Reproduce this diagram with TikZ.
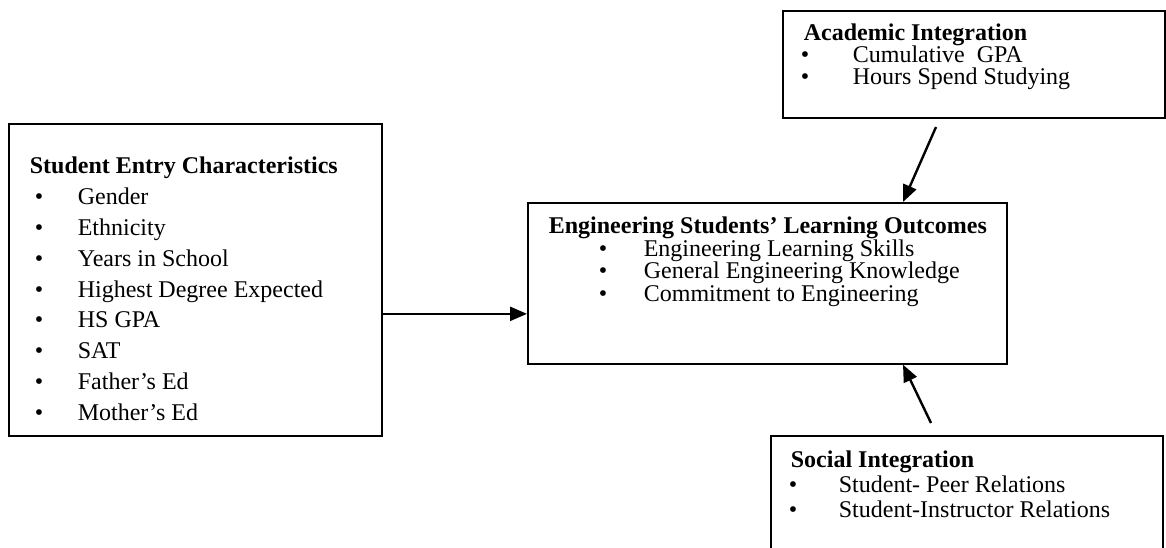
\documentclass[tikz,border=0pt]{standalone}
\usepackage{fontspec}
\setmainfont{Liberation Serif}
\usetikzlibrary{arrows.meta}

\newlength{\bulx}
\newlength{\txtx}
\newcommand{\bxsetup}[3]{\setlength{\bulx}{#1}\setlength{\txtx}{#2}%
  \fontsize{24}{#3}\selectfont\lineskiplimit=-100pt\relax}
\newcommand{\bitem}[1]{\par\makebox[\txtx][l]{\hspace*{\bulx}\textbullet}#1}

\begin{document}
\begin{tikzpicture}[x=1pt,y=-1pt,
    box/.style={draw, line width=1.7pt, inner sep=0pt, anchor=north west},
    flow/.style={-{Triangle[length=17pt,width=14pt]}, line width=2.4pt}]
  \useasboundingbox (0,0) rectangle (1166,548);
  \clip (0,0) rectangle (1166,548);

  % entry characteristics
  \node[box] (entry) at (8,123) {\begin{minipage}[t][312pt][t]{373pt}
      \bxsetup{26pt}{69pt}{30.8pt}%
      \rule{0pt}{50pt}\hspace*{21pt}\textbf{Student Entry Characteristics}
      \bitem{Gender}
      \bitem{Ethnicity}
      \bitem{Years in School}
      \bitem{Highest Degree Expected}
      \bitem{HS GPA}
      \bitem{SAT}
      \bitem{Father’s Ed}
      \bitem{Mother’s Ed}
    \end{minipage}};

  % outcomes
  \node[box] (outcomes) at (527,202) {\begin{minipage}[t][161pt][t]{479pt}
      \bxsetup{71pt}{116pt}{22.5pt}%
      \rule{0pt}{31pt}\hspace*{21pt}\textbf{Engineering Students’ Learning Outcomes}
      \bitem{Engineering Learning Skills}
      \bitem{General Engineering Knowledge}
      \bitem{Commitment to Engineering}
    \end{minipage}};

  % integration boxes
  \node[box] (academic) at (782,10) {\begin{minipage}[t][107pt][t]{382pt}
      \bxsetup{18pt}{70pt}{22pt}%
      \rule{0pt}{30pt}\hspace*{21pt}\textbf{Academic Integration}
      \bitem{Cumulative\ \ GPA}
      \bitem{Hours Spend Studying}
    \end{minipage}};
  \node[box] (social) at (770,435) {\begin{minipage}[t][130pt][t]{392pt}
      \bxsetup{18pt}{68pt}{25pt}%
      \rule{0pt}{32pt}\hspace*{20pt}\textbf{Social Integration}
      \bitem{Student- Peer Relations}
      \bitem{Student-Instructor Relations}
    \end{minipage}};

  \coordinate (acadfoot) at (936,127);
  \coordinate (socialfoot) at (931,423);
  \draw[flow] ([yshift=-34pt]entry.east) -- ([yshift=-30.5pt]outcomes.west);
  \draw[flow] (acadfoot) -- ([xshift=376pt]outcomes.north west);
  \draw[flow] (socialfoot) -- ([xshift=376pt]outcomes.south west);
\end{tikzpicture}
\end{document}
